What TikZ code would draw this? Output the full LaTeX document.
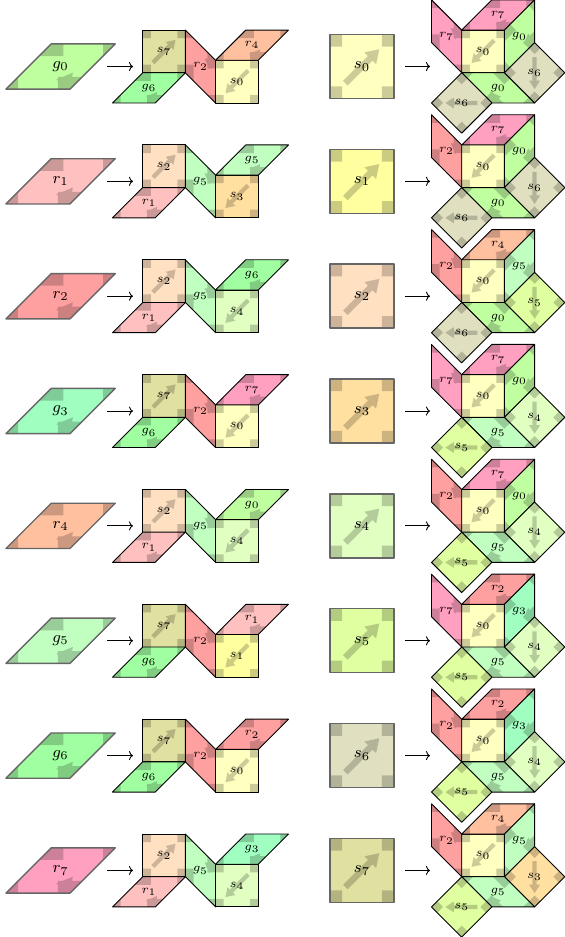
\documentclass[tikz,border=0pt]{standalone}
\usetikzlibrary{arrows.meta}
\definecolor{s0}{HTML}{FFFFC0}
\definecolor{s1}{HTML}{FFFFA0}
\definecolor{s2}{HTML}{FFE0C0}
\definecolor{s3}{HTML}{FFE0A0}
\definecolor{s4}{HTML}{E0FFC0}
\definecolor{s5}{HTML}{E0FFA0}
\definecolor{s6}{HTML}{E0E0C0}
\definecolor{s7}{HTML}{E0E0A0}
\definecolor{g0}{HTML}{C0FFA0}
\definecolor{g3}{HTML}{A0FFC0}
\definecolor{g5}{HTML}{C0FFC0}
\definecolor{g6}{HTML}{A0FFA0}
\definecolor{r1}{HTML}{FFC0C0}
\definecolor{r2}{HTML}{FFA0A0}
\definecolor{r4}{HTML}{FFC0A0}
\definecolor{r7}{HTML}{FFA0C0}
\newcommand{\lab}[2]{#1_{#2}}
\tikzset{
  mk/.style={fill=black, fill opacity=0.2},
  smedge/.style={draw=black, line width=0.45pt, line join=round},
  bgedge/.style={draw=black!60, line width=0.7pt, line join=round},
  smlab/.style={inner sep=0pt, font=\fontsize{6}{7}\selectfont},
  bglab/.style={inner sep=0pt, font=\fontsize{8}{9}\selectfont},
  conn/.style={-{To[length=2pt,width=4.5pt]}, line width=0.45pt}
}
% square tile: name, x, y, rotation, scale, tag, size
\newcommand{\SQ}[7]{%
  \begin{scope}[shift={(#2,#3)},rotate=#4,scale=#5]
    \fill[fill=#6] (-0.5,-0.5) -- (0.5,-0.5) -- (0.5,0.5) -- (-0.5,0.5) -- cycle;
    \fill[mk] (-0.5,-0.5) -- (-0.31,-0.5) -- (-0.31,-0.31) -- (-0.5,-0.31) -- cycle
      (0.31,-0.5) -- (0.5,-0.5) -- (0.5,-0.31) -- (0.31,-0.31) -- cycle
      (0.31,0.31) -- (0.5,0.31) -- (0.5,0.5) -- (0.31,0.5) -- cycle
      (-0.5,0.31) -- (-0.31,0.31) -- (-0.31,0.5) -- (-0.5,0.5) -- cycle
      (-0.2246,-0.2954) -- (0.164,0.0932) -- (0.2205,0.0367) -- (0.27,0.27) -- (0.0367,0.2205) -- (0.0932,0.164) -- (-0.2954,-0.2246) -- cycle;
    \draw[#7edge] (-0.5,-0.5) -- (0.5,-0.5) -- (0.5,0.5) -- (-0.5,0.5) -- cycle;
  \end{scope}
  \node[#7lab] (#1) at (#2,#3) {$\lab#6$};
}
% rhombus tile: name, x, y, rotation, scale, tag, size
\newcommand{\RH}[7]{%
  \begin{scope}[shift={(#2,#3)},rotate=#4,scale=#5]
    \fill[fill=#6] (-0.8536,-0.3536) -- (0.1464,-0.3536) -- (0.8536,0.3536) -- (-0.1464,0.3536) -- cycle;
    \fill[mk] (-0.8536,-0.3536) -- (-0.6636,-0.3536) -- (-0.6636,-0.1636) -- cycle
      (-0.0436,-0.3536) -- (0.1464,-0.3536) -- (0.3364,-0.1636) -- (-0.0436,-0.1636) -- cycle
      (0.8536,0.3536) -- (0.6636,0.3536) -- (0.6636,0.1636) -- cycle
      (0.0436,0.1636) -- (0.0436,0.3536) -- (-0.1464,0.3536) -- (-0.3364,0.1636) -- cycle
      (0.1464,-0.3536) -- (0.1915,-0.0967) -- (-0.0671,-0.2039) -- cycle;
    \draw[#7edge] (-0.8536,-0.3536) -- (0.1464,-0.3536) -- (0.8536,0.3536) -- (-0.1464,0.3536) -- cycle;
  \end{scope}
  \node[#7lab] (#1) at (#2,#3) {$\lab#6$};
}
% left half of a row: n, big rhombus, square A, below, middle, square B, top
\newcommand{\LRow}[7]{%
  \pgfmathsetmacro\Yc{870.5-114.85*(#1-1)}
  \RH{L#1big}{60.6}{\Yc}{0}{64}{#2}{bg}
  \coordinate (L#1p) at (107,\Yc);
  \coordinate (L#1q) at (133,\Yc);
  \draw[conn] (L#1p) -- (L#1q);
  \SQ{L#1a}{164.05}{\Yc+15.05}{0}{42.7}{#3}{sm}
  \RH{L#1b}{148.95}{\Yc-21.40}{0}{42.7}{#4}{sm}
  \RH{L#1m}{200.50}{\Yc-0.05}{90}{42.7}{#5}{sm}
  \SQ{L#1c}{236.94}{\Yc-15.14}{180}{42.7}{#6}{sm}
  \RH{L#1t}{252.04}{\Yc+21.30}{0}{42.7}{#7}{sm}
}
% right half of a row: n, big square, left, top, right, right diamond, bottom, bottom diamond
\newcommand{\RRow}[8]{%
  \pgfmathsetmacro\Yc{870.5-114.85*(#1-1)}
  \SQ{R#1big}{362}{\Yc}{0}{64}{#2}{bg}
  \coordinate (R#1p) at (405,\Yc);
  \coordinate (R#1q) at (430,\Yc);
  \draw[conn] (R#1p) -- (R#1q);
  \SQ{R#1c}{483.05}{\Yc+15.05}{180}{42.7}{s0}{sm}
  \RH{R#1t}{498.15}{\Yc+51.50}{0}{42.7}{#4}{sm}
  \RH{R#1l}{446.60}{\Yc+30.15}{90}{42.7}{#3}{sm}
  \RH{R#1r}{519.50}{\Yc+30.15}{45}{42.7}{#5}{sm}
  \SQ{R#1d}{534.59}{\Yc-6.30}{225}{42.7}{#6}{sm}
  \RH{R#1b}{498.15}{\Yc-21.40}{-45}{42.7}{#7}{sm}
  \SQ{R#1f}{461.70}{\Yc-36.49}{135}{42.7}{#8}{sm}
}
\begin{document}
\begin{tikzpicture}[x=0.5pt,y=0.5pt]
  \fill[white] (0,0) rectangle (565,937);
  \useasboundingbox (0,0) rectangle (565,937);
  \LRow{1}{g0}{s7}{g6}{r2}{s0}{r4}
  \LRow{2}{r1}{s2}{r1}{g5}{s3}{g5}
  \LRow{3}{r2}{s2}{r1}{g5}{s4}{g6}
  \LRow{4}{g3}{s7}{g6}{r2}{s0}{r7}
  \LRow{5}{r4}{s2}{r1}{g5}{s4}{g0}
  \LRow{6}{g5}{s7}{g6}{r2}{s1}{r1}
  \LRow{7}{g6}{s7}{g6}{r2}{s0}{r2}
  \LRow{8}{r7}{s2}{r1}{g5}{s4}{g3}
  \RRow{1}{s0}{r7}{r7}{g0}{s6}{g0}{s6}
  \RRow{2}{s1}{r2}{r7}{g0}{s6}{g0}{s6}
  \RRow{3}{s2}{r2}{r4}{g5}{s5}{g0}{s6}
  \RRow{4}{s3}{r7}{r7}{g0}{s4}{g5}{s5}
  \RRow{5}{s4}{r2}{r7}{g0}{s4}{g5}{s5}
  \RRow{6}{s5}{r7}{r2}{g3}{s4}{g5}{s5}
  \RRow{7}{s6}{r2}{r2}{g3}{s4}{g5}{s5}
  \RRow{8}{s7}{r2}{r4}{g5}{s3}{g5}{s5}
\end{tikzpicture}
\end{document}
